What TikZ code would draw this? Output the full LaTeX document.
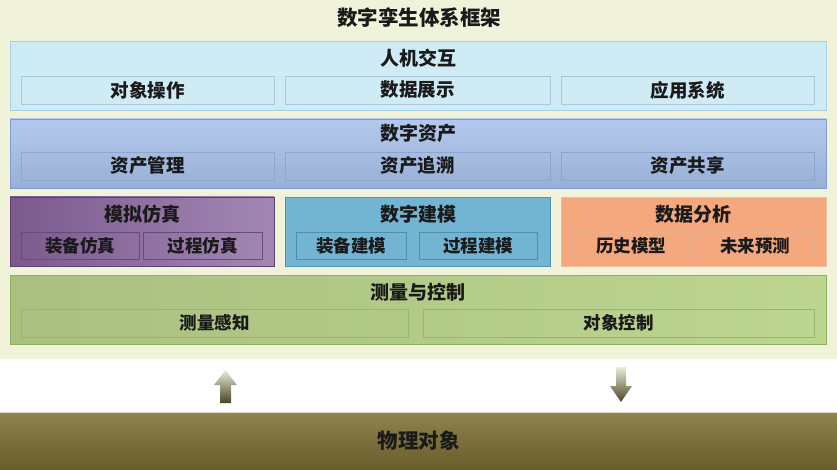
\documentclass[tikz,border=0pt]{standalone}
\usepackage{fontspec}
\setmainfont{Noto Sans CJK SC}
\usetikzlibrary{calc}
\definecolor{bgc}{HTML}{F0F3DA}
\definecolor{txt}{HTML}{1A1A1A}
\definecolor{hmF}{HTML}{CFEBF6}\definecolor{hmD}{HTML}{A8D2E4}\definecolor{hmS}{HTML}{ABC8D6}
\definecolor{zcF}{HTML}{A6BFE9}\definecolor{zcD}{HTML}{7F9CD0}\definecolor{zcS}{HTML}{8CA6CE}
\definecolor{mnL}{HTML}{7B5A8E}\definecolor{mnR}{HTML}{A287B4}\definecolor{mnD}{HTML}{5E3F72}\definecolor{mnS}{HTML}{664C7C}
\definecolor{jmF}{HTML}{72B4D2}\definecolor{jmD}{HTML}{4F93B4}\definecolor{jmS}{HTML}{4F8FAE}
\definecolor{fxF}{HTML}{F5A77E}\definecolor{fxD}{HTML}{EDBE9E}\definecolor{fxS}{HTML}{E8B08E}
\definecolor{clF}{HTML}{BCD58F}\definecolor{clD}{HTML}{8FAF5C}\definecolor{clS}{HTML}{98B66A}
\definecolor{wlT}{HTML}{8F844D}\definecolor{wlB}{HTML}{685D2B}
\definecolor{arT}{HTML}{E8EEDA}\definecolor{arB}{HTML}{4A4522}
\tikzset{
  panel/.style={anchor=north west, inner sep=0pt, outer sep=0pt, line width=0.9pt},
  head/.style={text=txt, font=\fontsize{19}{20}\selectfont\bfseries, inner sep=0pt},
  lab/.style={text=txt, font=\fontsize{18.5}{20}\selectfont\bfseries, inner sep=0pt},
  labs/.style={text=txt, font=\fontsize{17.5}{19}\selectfont\bfseries, inner sep=0pt},
}
\begin{document}
\begin{tikzpicture}[x=1pt,y=-1pt]
\useasboundingbox (0,0) rectangle (837,470);
% background frame
\node[panel, fill=bgc, minimum width=837pt, minimum height=359pt] (frame) at (0,0) {};
\draw[gray!60, line width=1pt] (frame.north west) -- (frame.north east);
\draw[white!85!bgc, line width=1pt] (frame.south west) -- (frame.south east);
\node[head, font=\fontsize{20.5}{22}\selectfont\bfseries] (title) at (419,18) {数字孪生体系框架};

% row 1: 人机交互
\node[panel, draw=hmD, fill=hmF, minimum width=816pt, minimum height=69pt] (hm) at (10,41) {};
\node[head] (hmt) at (418,58) {人机交互};
\node[panel, draw=hmS, fill=hmF, minimum width=253pt, minimum height=28pt] (hm1) at (21,76) {};
\node[panel, draw=hmS, fill=hmF, minimum width=265pt, minimum height=28pt] (hm2) at (285,76) {};
\node[panel, draw=hmS, fill=hmF, minimum width=253pt, minimum height=28pt] (hm3) at (561,76) {};
\node[lab] at (hm1) {对象操作};
\node[lab] at (hm2) {数据展示};
\node[lab] at (hm3) {应用系统};

% row 2: 数字资产
\node[panel, draw=zcD, top color=zcF!85!white, bottom color=zcF!92!black, minimum width=816pt, minimum height=69pt] (zc) at (10,119) {};
\node[head] (zct) at (418,133) {数字资产};
\node[panel, draw=zcS, minimum width=253pt, minimum height=28pt] (zc1) at (21,152) {};
\node[panel, draw=zcS, minimum width=265pt, minimum height=28pt] (zc2) at (285,152) {};
\node[panel, draw=zcS, minimum width=253pt, minimum height=28pt] (zc3) at (561,152) {};
\node[lab] at (zc1) {资产管理};
\node[lab] at (zc2) {资产追溯};
\node[lab] at (zc3) {资产共享};

% row 3
\node[panel, draw=mnD, left color=mnL, right color=mnR, minimum width=264pt, minimum height=69pt] (mn) at (10,197) {};
\node[head] (mnt) at (142,214) {模拟仿真};
\node[panel, draw=mnS, minimum width=118pt, minimum height=27pt] (mn1) at (21,232) {};
\node[panel, draw=mnS, minimum width=119pt, minimum height=27pt] (mn2) at (143,232) {};
\node[labs] at (mn1) {装备仿真};
\node[labs] at (mn2) {过程仿真};

\node[panel, draw=jmD, fill=jmF, minimum width=265pt, minimum height=69pt] (jm) at (285,197) {};
\node[head] (jmt) at (418,214) {数字建模};
\node[panel, draw=jmS, minimum width=110pt, minimum height=27pt] (jm1) at (296,232) {};
\node[panel, draw=jmS, minimum width=118pt, minimum height=27pt] (jm2) at (419,232) {};
\node[labs] at (jm1) {装备建模};
\node[labs] at (jm2) {过程建模};

\node[panel, draw=fxD, fill=fxF, minimum width=265pt, minimum height=69pt] (fx) at (561,197) {};
\node[head] (fxt) at (693,214) {数据分析};
\node[panel, draw=fxS, minimum width=118pt, minimum height=27pt] (fx1) at (572,232) {};
\node[panel, draw=fxS, minimum width=118pt, minimum height=27pt] (fx2) at (696,232) {};
\node[labs] at (fx1) {历史模型};
\node[labs] at (fx2) {未来预测};

% row 4
\node[panel, draw=clD, left color=clF!90!black, right color=clF, minimum width=816pt, minimum height=69pt] (cl) at (10,275) {};
\node[head] (clt) at (418,292) {测量与控制};
\node[panel, draw=clS, minimum width=387pt, minimum height=28pt] (cl1) at (21,309) {};
\node[panel, draw=clS, minimum width=391pt, minimum height=28pt] (cl2) at (423,309) {};
\node[labs] at (cl1) {测量感知};
\node[labs] at (cl2) {对象控制};

% physical object bar
\node[panel, top color=wlT, bottom color=wlB, minimum width=837pt, minimum height=58pt] (wl) at (0,412) {};
\draw[white!70!wlT, line width=1pt] (wl.north west) -- (wl.north east);
\node[head, font=\fontsize{20.5}{22}\selectfont\bfseries] (wlt) at (wl.center) {物理对象};

% arrows
\coordinate (upb) at (225.5,403);
\coordinate (dnb) at (621,402);
\shade[top color=arT, bottom color=arB]
  ($(upb)+(-5.5,0)$) -- ++(0,-18) -- ++(-6,0) -- ++(11.5,-15) -- ++(11.5,15) -- ++(-6,0) -- ++(0,18) -- cycle;
\shade[top color=arT, bottom color=arB]
  (dnb) -- ++(-11,-16) -- ++(6,0) -- ++(0,-19) -- ++(10,0) -- ++(0,19) -- ++(6,0) -- cycle;
\end{tikzpicture}
\end{document}
